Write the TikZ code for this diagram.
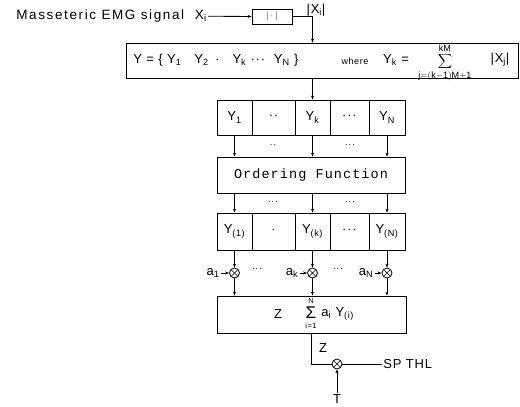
\documentclass[tikz,border=0pt]{standalone}
\usepackage{fontspec}
\setmainfont[LetterSpace=6]{Liberation Sans}
\newfontfamily\monofont[LetterSpace=8]{Liberation Mono}
\usetikzlibrary{arrows.meta,positioning,calc}
\newcommand{\lo}[1]{\textsubscript{#1}}

\begin{document}
\begin{tikzpicture}[
  x=1pt, y=-1pt,
  font=\fontsize{13}{15}\selectfont,
  >={Stealth[length=4pt,width=3pt]},
  line width=0.8pt,
  % Blocks and cells
  block/.style={draw, rectangle, inner sep=0pt},
  cell/.style={draw, rectangle, inner sep=0pt, minimum height=35pt},
  scell/.style={draw, rectangle, inner sep=0pt, minimum height=37pt},
  % Multiplier / comparator circles
  mult/.style={draw, circle, minimum size=10pt, inner sep=0pt,
    path picture={\draw[line width=0.6pt]
      (path picture bounding box.north west) -- (path picture bounding box.south east)
      (path picture bounding box.north east) -- (path picture bounding box.south west);}},
  % Labels
  lbl/.style={inner sep=1pt},
  lim/.style={inner sep=0pt, font=\fontsize{7.5}{8}\selectfont},
  dotl/.style={font=\fontsize{9}{10}\selectfont, inner sep=1pt},
  arr/.style={->},
]
\useasboundingbox (0,0) rectangle (520,407);

% -------------------------------------------------------
% INPUT — rectified EMG signal
% -------------------------------------------------------
\node[lbl, anchor=east, font=\fontsize{13.5}{15}\selectfont\addfontfeatures{LetterSpace=12}]
      (sig) at (208,16) {Masseteric EMG signal\ \ X\lo{i}};
\node[block, minimum width=40pt, minimum height=15pt,
      font=\fontsize{9}{10}\selectfont] (abs) at (272,16.5) {$|\cdot|$};
\node[lbl]              (absout) at (316,10)   {|X\lo{i}|};

% -------------------------------------------------------
% BLOCK SUMS
% -------------------------------------------------------
\node[block, minimum width=392pt, minimum height=35pt] (yset) at (322,60.5) {};
\node[lbl, anchor=west] (ylist) at (132,60)  {Y = \{ Y\lo{1}\quad Y\lo{2} \,·\quad Y\lo{k} ··· \ Y\lo{N} \}};
\node[lbl, font=\fontsize{9}{10}\selectfont] (where) at (355,61) {where};
\node[lbl]              (yk)    at (396,60)  {Y\lo{k} =};
\node[lbl]              (ksum)  at (445,63)  {$\displaystyle\sum_{\mathrm{j=(k-1)M+1}}^{\mathrm{kM}}$};
\node[lbl]              (xj)    at (500,60)  {|X\lo{j}|};

% Cells Y_1 ... Y_N
\node[cell, minimum width=35pt] (c1) at (234.5,117.5) {Y\lo{1}};
\node[cell, minimum width=43pt] (c2) at (273.5,117.5) {··};
\node[cell, minimum width=35pt] (c3) at (312.5,117.5) {Y\lo{k}};
\node[cell, minimum width=39pt] (c4) at (349.5,117.5) {···};
\node[cell, minimum width=36pt] (c5) at (387,117.5)   {Y\lo{N}};

\draw[arr] (sig) -- (abs);
\draw[arr] (abs.east) -| (c3.north |- yset.north);
\draw[arr] (c3.north |- yset.south) -- (c3.north);

% -------------------------------------------------------
% ORDERING
% -------------------------------------------------------
\node[block, minimum width=188pt, minimum height=36pt,
      font=\monofont\fontsize{13.5}{16}\selectfont] (ord) at (311,175) {Ordering Function};

\draw[arr] (c1.south) -- (c1.south |- ord.north);
\draw[arr] (c3.south) -- (c3.south |- ord.north);
\draw[arr] (c5.south) -- (c5.south |- ord.north);
\node[dotl] (d1) at (273,146) {··};
\node[dotl] (d2) at (350,146) {···};

% Ordered cells Y_(1) ... Y_(N)
\node[scell, minimum width=35pt] (s1) at (234.5,231.5) {Y\lo{(1)}};
\node[scell, minimum width=43pt] (s2) at (273.5,231.5) {·};
\node[scell, minimum width=35pt] (s3) at (312.5,231.5) {Y\lo{(k)}};
\node[scell, minimum width=39pt] (s4) at (349.5,231.5) {···};
\node[scell, minimum width=36pt] (s5) at (387,231.5)   {Y\lo{(N)}};

\draw[arr] (ord.south -| s1) -- (s1.north);
\draw[arr] (ord.south -| s3) -- (s3.north);
\draw[arr] (ord.south -| s5) -- (s5.north);
\node[dotl] (d3) at (273,203) {···};
\node[dotl] (d4) at (350,203) {···};

% -------------------------------------------------------
% WEIGHTING
% -------------------------------------------------------
\node[mult] (m1) at (234.5,273) {};
\node[mult] (mk) at (312.5,273) {};
\node[mult] (mN) at (387,273)   {};
\node[lbl] (w1) at (213,273) {a\lo{1}};
\node[lbl] (wk) at (292,273) {a\lo{k}};
\node[lbl] (wN) at (366,273) {a\lo{N}};
\node[dotl] (d5) at (257,270) {···};
\node[dotl] (d6) at (338,270) {···};

\draw[arr] (s1.south) -- (m1);
\draw[arr] (s3.south) -- (mk);
\draw[arr] (s5.south) -- (mN);
\draw[arr] (w1) -- (m1);
\draw[arr] (wk) -- (mk);
\draw[arr] (wN) -- (mN);

% Weighted sum block
\node[block, minimum width=189pt, minimum height=37pt] (zsum) at (311.5,314.5) {};
\node[lbl]  (zname) at (278,314) {Z};
\node[inner sep=0pt, font=\fontsize{17}{17}\selectfont] (zsig) at (311,313) {Σ};
\node[lim]  (zup)   at (311,301) {N};
\node[lim]  (zdown) at (311,325.5) {i=1};
\node[lbl, anchor=west] (zterm) at (320,314) {a\lo{i} Y\lo{(i)}};

\draw[arr] (m1) -- (m1 |- zsum.north);
\draw[arr] (mk) -- (mk |- zsum.north);
\draw[arr] (mN) -- (mN |- zsum.north);

% -------------------------------------------------------
% THRESHOLD
% -------------------------------------------------------
\node[mult] (cmp)  at (337,364) {};
\node[lbl]  (zlab) at (323,348) {Z};
\node[lbl, anchor=west] (thl) at (382,364) {SP THL};
\node[lbl]  (tin)  at (337,399) {T};

\draw (zsum.south) |- (cmp.west);
\draw (cmp.east) -- (thl.west);
\draw[arr] (tin.north) -- (cmp.south);

\end{tikzpicture}
\end{document}
